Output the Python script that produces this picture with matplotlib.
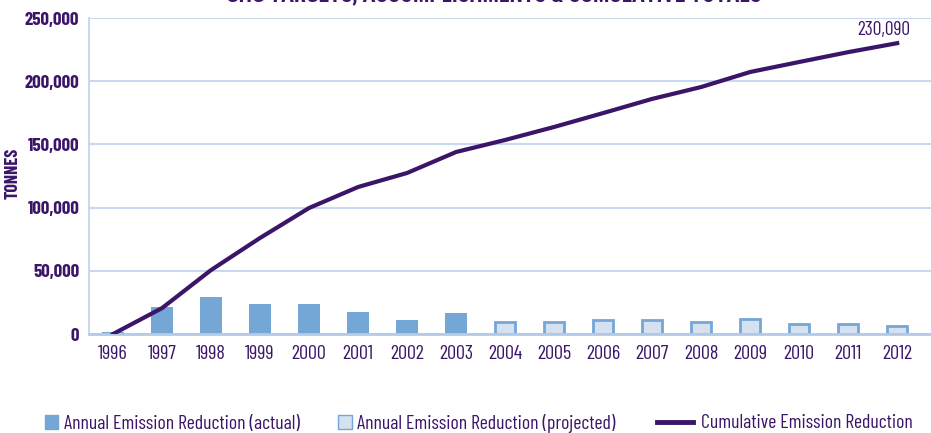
import matplotlib.pyplot as plt
from matplotlib.patches import Patch
from matplotlib.lines import Line2D
import numpy as np

years = [str(y) for y in range(1996, 2013)]
annual = [1500, 21000, 29000, 24000, 23700, 17200, 10800, 16400,
          9700, 9700, 10800, 10800, 9700, 11600, 7900, 7900, 6300]
n_actual = 8  # 1996-2003 actual, rest projected
cumulative = [0, 20500, 50600, 76000, 99700, 116300, 127400, 144000,
              153500, 163800, 174800, 186000, 195400, 207300, 215200, 223000, 230090]

purple = "#3b1568"
bar_blue = "#74a7d6"
proj_face = "#d5e0f1"
grid_c = "#c8d8ee"

plt.rcParams['font.family'] = ['Barlow Condensed', 'DejaVu Sans']

fig = plt.figure(figsize=(9.31, 4.33), dpi=100)
ax = fig.add_axes([0.0956, 0.2286, 0.9044, 0.7298])

x = np.arange(len(years))
ax.bar(x[:n_actual], annual[:n_actual], width=0.45, color=bar_blue, zorder=2)
ax.bar(x[n_actual:], annual[n_actual:], width=0.42, color=proj_face,
       edgecolor=bar_blue, linewidth=2, zorder=2)
ax.plot(x, cumulative, color=purple, lw=3, zorder=3)
ax.text(x[-1] - 0.27, cumulative[-1] + 3000, "230,090", color=purple,
        fontsize=14, ha="center", va="bottom")

ax.set_xlim(-0.49, 16.69)
ax.set_ylim(0, 250000)
ax.set_yticks(range(0, 250001, 50000))
ax.set_yticklabels(["0" if v == 0 else f"{v:,}" for v in range(0, 250001, 50000)],
                   fontweight="bold", fontsize=13.5, color=purple)
ax.set_xticks(x)
ax.set_xticklabels(years, fontsize=14.5, color=purple)
ax.tick_params(length=0, pad=8)
ax.tick_params(axis="y", pad=7)
ax.yaxis.grid(True, color=grid_c, lw=1.5, zorder=0)
ax.set_axisbelow(True)
for s in ["top", "right"]:
    ax.spines[s].set_visible(False)
ax.spines["left"].set_color(grid_c)
ax.spines["left"].set_linewidth(1.5)
ax.spines["bottom"].set_color("#b5cae6")
ax.spines["bottom"].set_linewidth(2)

fig.text(0.0145, 0.60, "TONNES", rotation=90, fontweight="bold", fontsize=13,
         color=purple, ha="center", va="center")
fig.text(0.53, 0.996, "GHG TARGETS, ACCOMPLISHMENTS & CUMULATIVE TOTALS",
         family=["Roboto Condensed", "DejaVu Sans"],
         fontweight="bold", fontsize=15.5, color=purple, ha="center", va="baseline")

bar_handles = [Patch(facecolor=bar_blue, edgecolor=bar_blue),
               Patch(facecolor=proj_face, edgecolor=bar_blue, linewidth=1)]
bar_labels = ["Annual Emission Reduction (actual)",
              "Annual Emission Reduction (projected)"]
leg1 = fig.legend(bar_handles, bar_labels, loc="center left", bbox_to_anchor=(0.031, 0.022),
                  ncol=2, frameon=False, fontsize=14.2, handlelength=0.7, handleheight=0.75,
                  handletextpad=0.3, columnspacing=1.9, borderpad=0.3)
line_handle = [Line2D([0], [0], color=purple, lw=3.5)]
leg2 = fig.legend(line_handle, ["Cumulative Emission Reduction"], loc="center left",
                  bbox_to_anchor=(0.689, 0.022), frameon=False, fontsize=14.2,
                  handlelength=1.8, handletextpad=0.4, borderpad=0.3)
for lg in (leg1, leg2):
    for t in lg.get_texts():
        t.set_color(purple)

fig.savefig("out.png", dpi=100)
